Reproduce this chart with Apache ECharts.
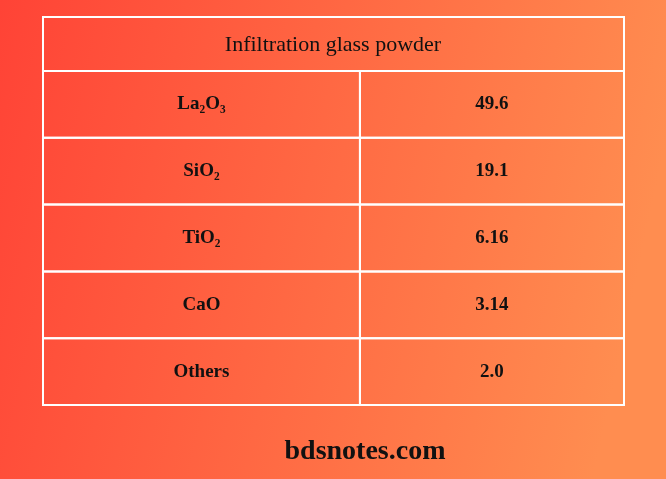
<!DOCTYPE html>
<html>
<head>
<meta charset="utf-8">
<script src="https://cdn.jsdelivr.net/npm/echarts@6/dist/echarts.min.js"></script>
<style>html,body{margin:0;padding:0}#chart{width:666px;height:479px}</style>
</head>
<body>
<div id="chart"></div>
<script>
const title = 'Infiltration glass powder';
const components = ['La₂O₃', 'SiO₂', 'TiO₂', 'CaO', 'Others'];
const amounts = ['49.6', '19.1', '6.16', '3.14', '2.0'];
const footer = 'bdsnotes.com';

const font = 'bold 19px "Liberation Serif", "DejaVu Serif", serif';
const chart = echarts.init(document.getElementById('chart'));
chart.setOption({
    backgroundColor: {
        type: 'linear', x: 0, y: 0, x2: 1, y2: 0.3,
        colorStops: [{ offset: 0, color: '#ff4336' }, { offset: 1, color: '#ff8d50' }]
    },
    grid: { left: 43, top: 71, width: 581, height: 334 },
    xAxis: { type: 'value', min: 0, max: 2, show: false },
    yAxis: { type: 'category', inverse: true, data: components, show: false },
    graphic: [
        { type: 'rect', shape: { x: 43, y: 17, width: 581, height: 54 },
          style: { fill: 'none', stroke: '#fff', lineWidth: 2 } },
        { type: 'text', x: 333, y: 45,
          style: { text: title, font: '22px "Liberation Serif", serif', fill: '#111', align: 'center', verticalAlign: 'middle' } },
        { type: 'text', x: 365, y: 452,
          style: { text: footer, font: 'bold 28px "Liberation Serif", serif', fill: '#111', align: 'center', verticalAlign: 'middle' } }
    ],
    series: [{
        type: 'custom',
        data: components.map((c, i) => [i, amounts[i]]),
        renderItem: function (params, api) {
            const i = api.value(0);
            const h = api.size([0, 1])[1];
            const p0 = api.coord([0, i]);
            const p1 = api.coord([1.091, i]);
            const p2 = api.coord([2, i]);
            const top = p0[1] - h / 2;
            return {
                type: 'group',
                children: [
                    { type: 'rect', shape: { x: p0[0], y: top, width: p1[0] - p0[0], height: h },
                      style: { fill: 'none', stroke: '#fff', lineWidth: 2 } },
                    { type: 'rect', shape: { x: p1[0], y: top, width: p2[0] - p1[0], height: h },
                      style: { fill: 'none', stroke: '#fff', lineWidth: 2 } },
                    { type: 'text', x: (p0[0] + p1[0]) / 2, y: p0[1],
                      style: { text: components[i], font: font, fill: '#111', align: 'center', verticalAlign: 'middle' } },
                    { type: 'text', x: (p1[0] + p2[0]) / 2, y: p0[1],
                      style: { text: amounts[i], font: font, fill: '#111', align: 'center', verticalAlign: 'middle' } }
                ]
            };
        }
    }]
});
</script>
</body>
</html>
